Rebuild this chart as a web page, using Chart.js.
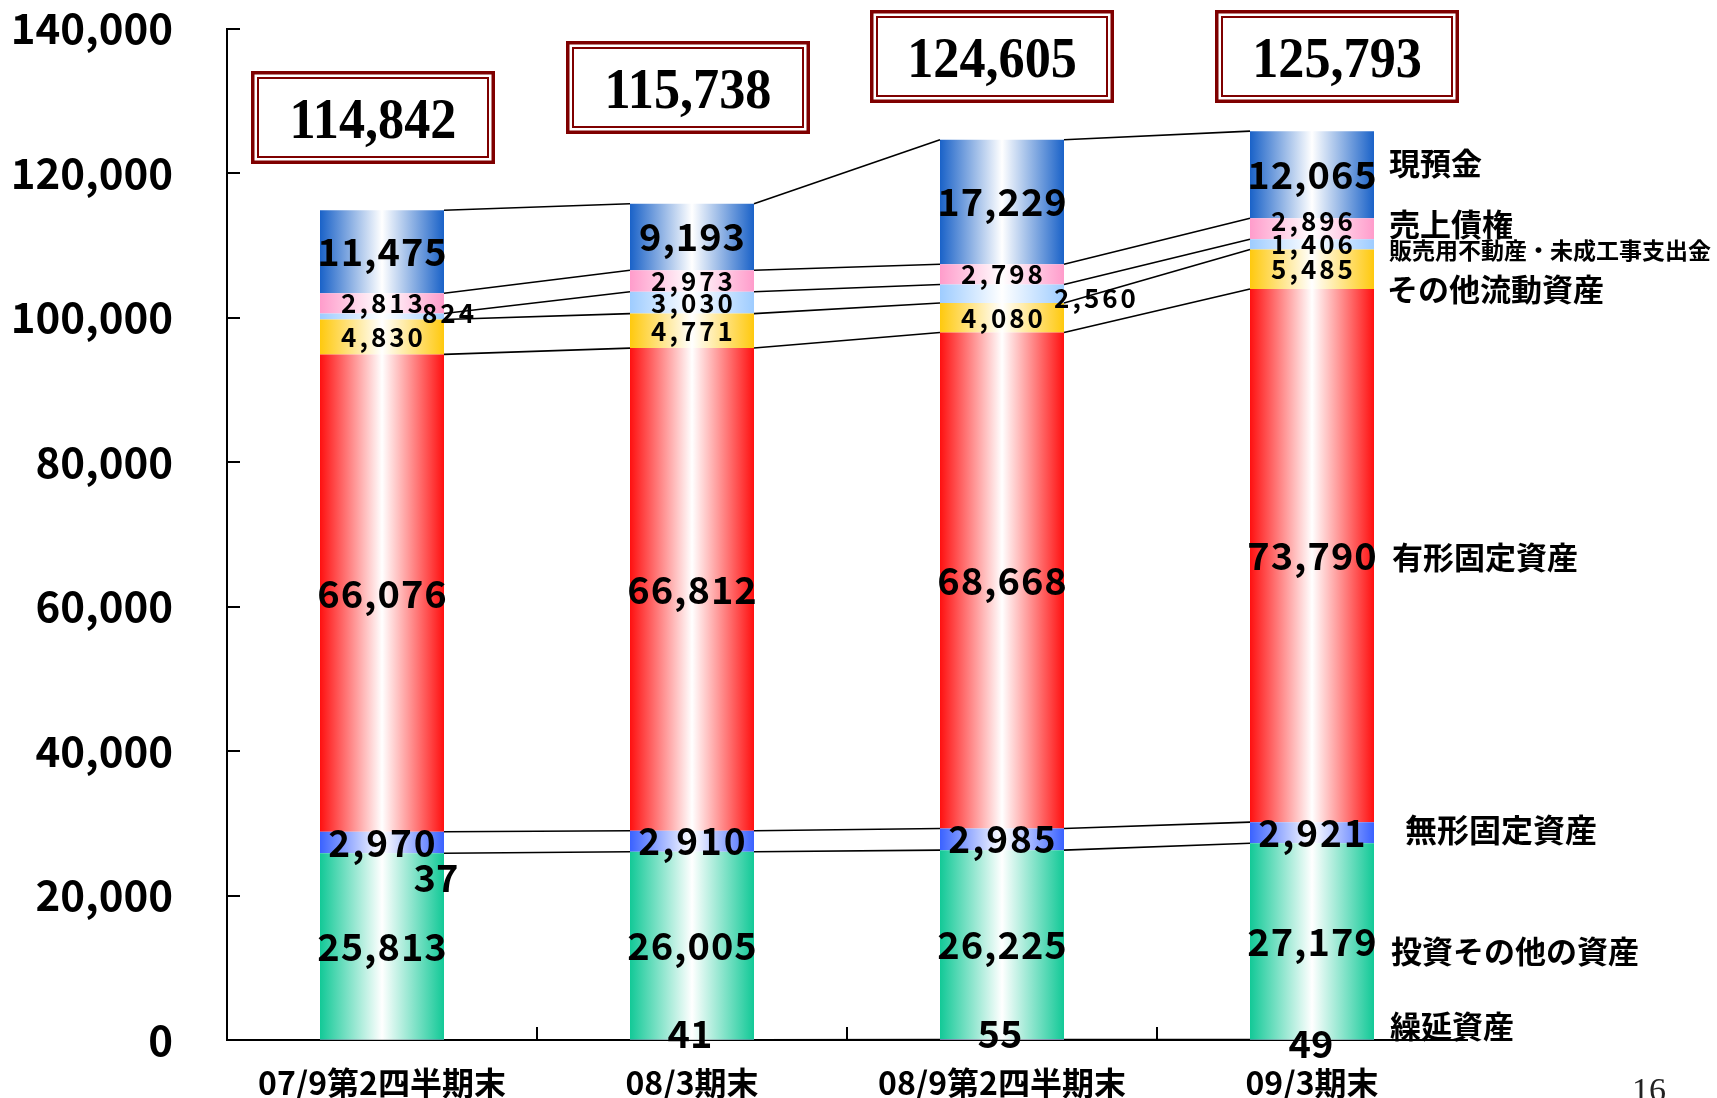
<!DOCTYPE html>
<html><head><meta charset="utf-8">
<script src="https://cdn.jsdelivr.net/npm/chart.js@4.4.1/dist/chart.umd.min.js"></script>
<style>html,body{margin:0;padding:0;background:#fff;overflow:hidden}#wrap{width:1717px;height:1098px;position:relative}</style>
</head><body><div id="wrap"><canvas id="c" width="1717" height="1098"></canvas></div>
<script>
// ---- data ----
const categories = ['07/9第2四半期末', '08/3期末', '08/9第2四半期末', '09/3期末'];
const seriesNames = ['繰延資産', '投資その他の資産', '無形固定資産', '有形固定資産', 'その他流動資産', '販売用不動産・未成工事支出金', '売上債権', '現預金'];
const deferredAssets = [37, 41, 55, 49];
const investmentsOther = [25813, 26005, 26225, 27179];
const intangibleFixed = [2970, 2910, 2985, 2921];
const tangibleFixed = [66076, 66812, 68668, 73790];
const otherCurrent = [4830, 4771, 4080, 5485];
const realEstateWip = [824, 3030, 2560, 1406];
const receivables = [2813, 2973, 2798, 2896];
const cashDeposits = [11475, 9193, 17229, 12065];
const totals = [114842, 115738, 124605, 125793];
const yTickValues = [0, 20000, 40000, 60000, 80000, 100000, 120000, 140000];
const yTickLabels = ['0', '20,000', '40,000', '60,000', '80,000', '100,000', '120,000', '140,000'];

// ---- styles ----
const seriesValues = [deferredAssets, investmentsOther, intangibleFixed, tangibleFixed, otherCurrent, realEstateWip, receivables, cashDeposits];
const seriesColors = ['#CC99FF', '#12C997', '#3A62FF', '#FF1010', '#FFC90E', '#9ECCFF', '#FF9CCB', '#1A62C8'];
const JP = '"Noto Sans CJK JP", "Noto Sans", sans-serif';
const labelFont = [38, 38, 37, 38, 26, 26, 26, 38];
const labelSpacing = [0, 1, 2, 1, 3, 3, 3, 1];
const labelShift = {'0,0': [54, -162], '0,1': [-2, -6], '0,2': [-2, -6], '0,3': [-1, 4], '5,0': [66, -3], '5,2': [93, 4], '6,3': [0, -8]};
const nameFont = [31, 31, 32, 31, 31, 23, 31, 31];
const nameShift = [[16, -14], [17, 10], [31, -3], [18, 2], [13, 20], [15, 6], [15, -5], [15, -12]];
const boxLayout = [{dx: -9, top: 71}, {dx: -4, top: 41}, {dx: -10, top: 10}, {dx: 25, top: 10}];
const BAR_PCT = 0.4;

function grad(c, color) {
  const chart = c.chart, xs = chart.scales.x;
  if (!xs || c.dataIndex === undefined || !isFinite(xs.width)) return color;
  const cx = xs.getPixelForValue(c.dataIndex);
  const w = (xs.width / categories.length) * BAR_PCT;
  const g = chart.ctx.createLinearGradient(cx - w / 2, 0, cx + w / 2, 0);
  g.addColorStop(0, color);
  g.addColorStop(0.5, '#ffffff');
  g.addColorStop(1, color);
  return g;
}

const datasets = seriesValues.map((vals, i) => ({
  label: seriesNames[i],
  data: vals,
  backgroundColor: (c) => grad(c, seriesColors[i]),
  borderWidth: 0,
  barPercentage: BAR_PCT,
  categoryPercentage: 1.0
}));

const fmt = (v) => v.toLocaleString('en-US');

const decor = {
  id: 'decor',
  afterDatasetsDraw(chart) {
    const ctx = chart.ctx;
    const xs = chart.scales.x, ys = chart.scales.y;
    // series lines
    ctx.save();
    ctx.strokeStyle = '#000';
    ctx.lineWidth = 1.6;
    chart.data.datasets.forEach((ds, di) => {
      const meta = chart.getDatasetMeta(di);
      for (let i = 0; i < meta.data.length - 1; i++) {
        const a = meta.data[i], b = meta.data[i + 1];
        ctx.beginPath();
        ctx.moveTo(a.x + a.width / 2, a.y);
        ctx.lineTo(b.x - b.width / 2, b.y);
        ctx.stroke();
      }
    });
    ctx.restore();
    // inward ticks
    ctx.save();
    ctx.strokeStyle = '#000';
    ctx.lineWidth = 2;
    yTickValues.forEach(v => {
      const y = Math.round(ys.getPixelForValue(v));
      ctx.beginPath(); ctx.moveTo(chart.chartArea.left, y); ctx.lineTo(chart.chartArea.left + 13, y); ctx.stroke();
    });
    for (let i = 1; i < categories.length; i++) {
      const x = Math.round(xs.left + xs.width * i / categories.length);
      ctx.beginPath(); ctx.moveTo(x, chart.chartArea.bottom); ctx.lineTo(x, chart.chartArea.bottom - 13); ctx.stroke();
    }
    ctx.restore();
    // data labels
    ctx.save();
    ctx.fillStyle = '#000';
    ctx.textAlign = 'center';
    ctx.textBaseline = 'middle';
    chart.data.datasets.forEach((ds, di) => {
      const meta = chart.getDatasetMeta(di);
      ctx.font = 'bold ' + labelFont[di] + 'px ' + JP;
      ctx.letterSpacing = labelSpacing[di] + 'px';
      meta.data.forEach((el, i) => {
        let x = el.x + labelSpacing[di] / 2;
        let y = (el.y + el.base) / 2;
        const s = labelShift[di + ',' + i];
        if (s) { x += s[0]; y += s[1]; }
        ctx.fillText(fmt(ds.data[i]), x, y);
      });
    });
    ctx.letterSpacing = '0px';
    // series names to the right of last bar
    ctx.textAlign = 'left';
    const last = categories.length - 1;
    chart.data.datasets.forEach((ds, di) => {
      const el = chart.getDatasetMeta(di).data[last];
      ctx.font = 'bold ' + nameFont[di] + 'px ' + JP;
      const x = el.x + el.width / 2 + nameShift[di][0];
      const y = (el.y + el.base) / 2 + nameShift[di][1];
      ctx.fillText(seriesNames[di], x, y);
    });
    // total boxes
    const BW = 244, BH = 93;
    totals.forEach((t, i) => {
      const cx = xs.getPixelForValue(i) + boxLayout[i].dx;
      const x0 = cx - BW / 2, y0 = boxLayout[i].top;
      ctx.fillStyle = '#fff';
      ctx.fillRect(x0, y0, BW, BH);
      ctx.strokeStyle = '#7F0000';
      ctx.lineWidth = 3.5;
      ctx.strokeRect(x0 + 1.75, y0 + 1.75, BW - 3.5, BH - 3.5);
      ctx.lineWidth = 2;
      ctx.strokeRect(x0 + 7, y0 + 7, BW - 14, BH - 14);
      ctx.save();
      ctx.fillStyle = '#000';
      ctx.font = 'bold 58px "Liberation Serif", "Times New Roman", serif';
      ctx.textAlign = 'center';
      ctx.textBaseline = 'alphabetic';
      ctx.translate(cx, y0 + BH / 2 + 20);
      ctx.scale(0.9, 1);
      ctx.fillText(fmt(t), 0, 0);
      ctx.restore();
    });
    // page number
    ctx.fillStyle = '#222';
    ctx.font = '34px "Liberation Serif", serif';
    ctx.textAlign = 'left';
    ctx.textBaseline = 'alphabetic';
    ctx.fillText('16', 1632, 1101);
    ctx.restore();
  }
};

new Chart(document.getElementById('c'), {
  type: 'bar',
  data: {labels: categories, datasets},
  options: {
    responsive: false,
    animation: false,
    devicePixelRatio: 1,
    layout: {padding: {top: 28.5, right: 250, left: 0, bottom: 0}},
    plugins: {legend: {display: false}, tooltip: {enabled: false}},
    scales: {
      x: {
        stacked: true,
        grid: {display: false, drawTicks: false},
        border: {display: true, color: '#000', width: 2},
        ticks: {font: {family: JP, size: 32, weight: 'bold'}, color: '#000', padding: 24, maxRotation: 0, autoSkip: false},
        afterFit: (s) => { s.height = 58; }
      },
      y: {
        stacked: true,
        min: 0, max: 140000,
        afterBuildTicks: (s) => { s.ticks = yTickValues.map(v => ({value: v})); },
        grid: {display: false, drawTicks: true, tickLength: 54},
        border: {display: true, color: '#000', width: 2},
        ticks: {font: {family: JP, size: 42, weight: 'bold'}, color: '#000', padding: 0,
          callback: (v) => yTickLabels[yTickValues.indexOf(v)]},
        afterFit: (s) => { s.width = 227; }
      }
    }
  },
  plugins: [decor]
});
</script>
</body></html>
